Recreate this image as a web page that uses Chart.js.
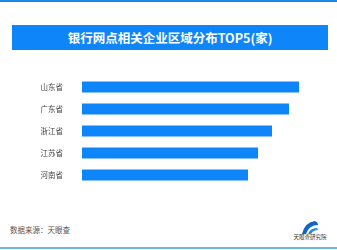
<!DOCTYPE html>
<html lang="zh">
<head>
<meta charset="UTF-8">
<title>银行网点相关企业区域分布TOP5</title>
<script src="https://cdn.jsdelivr.net/npm/chart.js"></script>
<style>
    body {
        margin: 0;
        width: 337px;
        height: 250px;
        background: #fff;
        font-family: 'Noto Sans CJK SC', 'Noto Sans', sans-serif;
        position: relative;
        overflow: hidden;
    }
    .topline { position: absolute; left: 0; top: 0; width: 337px; height: 2px; background: #1a86e8; }
    .bottomline { position: absolute; left: 0; top: 247px; width: 337px; height: 2px; background: #6ab6ea; }
    .title {
        position: absolute; left: 12px; top: 25px; width: 316px; height: 25px;
        background: #0f85fa; color: #fff; font-weight: bold; font-size: 12.5px;
        line-height: 25px; text-align: center;
    }
    .chart-box { position: absolute; left: 0; top: 70px; width: 337px; height: 120px; }
    .source { position: absolute; left: 10px; top: 224px; font-size: 7.5px; color: #555; }
    .logo { position: absolute; left: 291px; top: 220px; width: 38px; text-align: center; }
    .logo svg { display: block; margin: 0 auto; }
    .logo span { display: block; font-size: 5.5px; color: #333; line-height: 7px; }
</style>
</head>
<body>
<div class="topline"></div>
<div class="title">银行网点相关企业区域分布TOP5(家)</div>
<div class="chart-box"><canvas id="chart" width="337" height="120"></canvas></div>
<div class="source">数据来源：天眼查</div>
<div class="logo">
    <svg width="18" height="14" viewBox="0 0 18 14">
        <path d="M1 14 Q4 2 14 1 Q17 2 17 5 Q8 5 5 14 Z" fill="#1565c0"/>
        <path d="M7 14 Q9 8 16 8 L17 10 Q12 10 10 14 Z" fill="#1e88e5"/>
    </svg>
    <span>天眼查研究院</span>
</div>
<div class="bottomline"></div>

<script>
    const provinces = ["山东省", "广东省", "浙江省", "江苏省", "河南省"];
    const counts = [217, 207, 190, 176, 166];

    new Chart(document.getElementById("chart"), {
        type: "bar",
        data: {
            labels: provinces,
            datasets: [{
                data: counts,
                backgroundColor: "#0f85fa",
                categoryPercentage: 1,
                barPercentage: 0.5
            }]
        },
        options: {
            indexAxis: "y",
            responsive: false,
            animation: false,
            layout: { padding: { top: 6, bottom: 4, right: 27 } },
            plugins: { legend: { display: false }, tooltip: { enabled: false } },
            scales: {
                x: { display: false, min: 0, max: 228 },
                y: {
                    grid: { display: false },
                    border: { display: false },
                    ticks: { color: "#444", font: { size: 7.5, family: "'Noto Sans CJK SC'" }, padding: 11 },
                    afterFit(scale) {
                        scale.width = 82;
                        scale.paddingTop = 0;
                        scale.paddingBottom = 0;
                    }
                }
            }
        }
    });
</script>
</body>
</html>
